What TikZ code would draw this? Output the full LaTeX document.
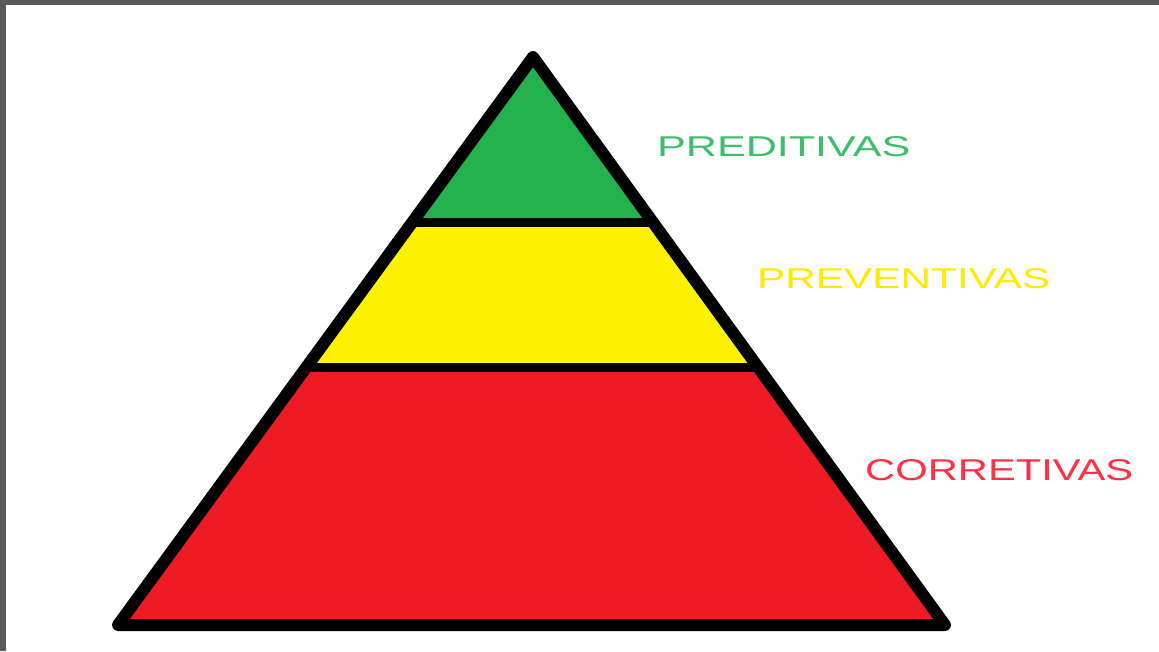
\documentclass[tikz,border=0pt]{standalone}
\usepackage{fontspec}
\setmainfont{Liberation Sans}
\definecolor{verde}{HTML}{22B14C}
\definecolor{amarelo}{HTML}{FFF200}
\definecolor{vermelho}{HTML}{ED1C24}
\definecolor{moldura}{HTML}{595959}
\definecolor{txtverde}{HTML}{3DBE6A}
\definecolor{txtamarelo}{HTML}{FFEA00}
\definecolor{txtvermelho}{HTML}{FF3045}
\tikzset{
  camada/.style={line width=12pt, line join=round},
  divisa/.style={line width=9pt},
  rotulo/.style={inner sep=0pt, anchor=west}
}
\begin{document}
\begin{tikzpicture}[x=1pt,y=-1pt]
			\useasboundingbox (0,0) rectangle (1159,651);
			\fill [white] (0,0) rectangle (1159,651);
			\fill [moldura] (0,0) rectangle (1159,5);
			\fill [moldura] (0,0) rectangle (6,651);
			% faixas da piramide
			\fill [vermelho] (118,625) -- (945,625) -- (758,367) -- (306,367) -- cycle;
			\fill [amarelo] (306,367) -- (758,367) -- (650,222) -- (414,222) -- cycle;
			\fill [verde] (414,222) -- (650,222) -- (533,57) -- cycle;
			\draw [divisa] (414,222)-- (650,222);
			\draw [divisa] (306,367)-- (758,367);
			\draw [camada] (533,57)-- (945,625)-- (118,625)-- cycle;
			% rotulos
			\node [rotulo, text=txtverde] (preditivas) at (657,147) {\resizebox{253pt}{20pt}{PREDITIVAS}};
			\node [rotulo, text=txtamarelo] (preventivas) at (757,279) {\resizebox{293pt}{20pt}{PREVENTIVAS}};
			\node [rotulo, text=txtvermelho] (corretivas) at (865,470) {\resizebox{268pt}{21pt}{CORRETIVAS}};
		\end{tikzpicture}
\end{document}
